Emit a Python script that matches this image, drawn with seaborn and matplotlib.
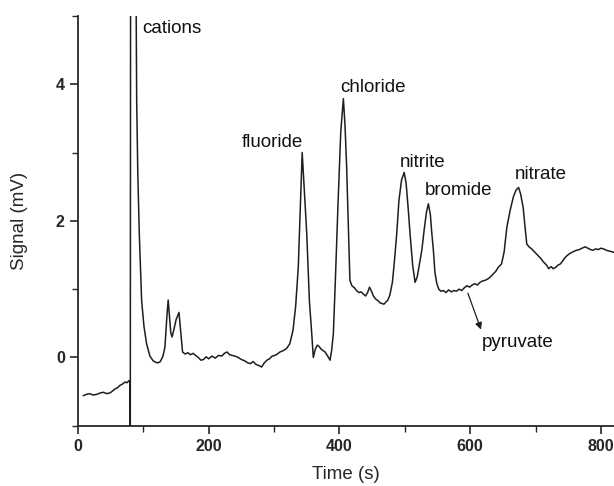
import matplotlib
matplotlib.use("Agg")
import matplotlib.pyplot as plt
import seaborn as sns
import pandas as pd
from matplotlib.ticker import MultipleLocator

# chromatogram trace (time in s, signal in mV)
time = [8, 13, 18, 23, 29, 34, 39, 44, 49, 53,
        57, 61, 64, 68, 72, 75, 78, 79.5, 80, 80.5,
        88.5, 89.8, 91.5, 93.8, 97.4, 101, 105, 110, 115, 119,
        122, 126, 130, 133, 136, 138, 140, 142, 144, 147,
        150, 154.5, 157, 160, 164, 168, 172, 176, 180, 184,
        188, 192, 196, 200, 205, 210, 215, 220, 224, 228,
        232, 236, 240, 245, 250, 255, 260, 264, 268, 272,
        277, 281, 285, 289, 293, 297, 301, 305, 309, 314,
        319, 324, 329, 333, 337, 340, 343, 346, 350, 354,
        357.6, 360, 363, 366, 369, 372, 375, 378, 382, 385.6,
        388, 390.7, 394, 398, 402, 406, 408.5, 411, 414, 416,
        419, 423, 426, 430, 433, 436.6, 440, 443, 446, 449,
        452, 455, 459, 462, 465, 468, 471, 474, 477, 481,
        484, 487.6, 491, 495, 499, 502, 505, 508, 512, 515.7,
        519, 522, 526, 530, 533, 536, 539, 541, 543.7, 546,
        549, 552, 555, 559, 563, 567, 571, 575, 579, 583,
        587, 591, 595, 599, 603, 607, 611, 615, 619, 623,
        627, 631, 635, 639, 643, 648, 652, 656, 661, 666,
        670, 674, 677, 681, 684, 686.6, 690, 694, 698, 701,
        704, 708, 712, 717, 720, 724, 727, 731, 734, 738,
        742, 745, 748, 752, 756, 760, 763, 767, 771, 776,
        780, 784, 788, 792, 796, 800, 804, 808, 812, 816, 820]
signal = [-0.56, -0.54, -0.53, -0.55, -0.54, -0.52, -0.51, -0.53, -0.52, -0.49,
          -0.46, -0.44, -0.41, -0.39, -0.36, -0.37, -0.34, -0.35, -1.6, 6.0,
          6.0, 3.76, 2.7, 1.81, 0.83, 0.45, 0.2, 0.02, -0.05, -0.07,
          -0.08, -0.06, 0.02, 0.15, 0.6, 0.84, 0.6, 0.36, 0.3, 0.42,
          0.55, 0.66, 0.4, 0.08, 0.05, 0.07, 0.04, 0.06, 0.03, 0.0,
          -0.04, -0.03, 0.01, -0.02, 0.02, -0.01, 0.03, 0.02, 0.06, 0.08,
          0.04, 0.03, 0.02, 0.0, -0.03, -0.05, -0.08, -0.09, -0.06, -0.1,
          -0.12, -0.14, -0.08, -0.04, -0.02, 0.02, 0.03, 0.05, 0.08, 0.1,
          0.13, 0.2, 0.4, 0.75, 1.32, 2.15, 3.0, 2.5, 1.81, 0.83,
          0.35, 0.0, 0.12, 0.18, 0.16, 0.12, 0.1, 0.08, 0.02, -0.04,
          0.1, 0.35, 1.2, 2.3, 3.3, 3.79, 3.4, 2.79, 1.8, 1.13,
          1.05, 1.02, 0.98, 0.95, 0.96, 0.93, 0.9, 0.95, 1.03, 0.97,
          0.9, 0.86, 0.83, 0.8, 0.79, 0.78, 0.81, 0.84, 0.91, 1.1,
          1.4, 1.81, 2.3, 2.6, 2.71, 2.55, 2.2, 1.81, 1.35, 1.1,
          1.18, 1.35, 1.57, 1.9, 2.12, 2.25, 2.1, 1.85, 1.57, 1.25,
          1.08, 1.0, 0.97, 0.98, 0.95, 0.99, 0.96, 0.98, 0.97, 1.0,
          0.98, 1.02, 1.05, 1.03, 1.06, 1.08, 1.06, 1.1, 1.12, 1.13,
          1.15, 1.18, 1.22, 1.26, 1.32, 1.37, 1.55, 1.9, 2.15, 2.35,
          2.45, 2.49, 2.4, 2.2, 1.9, 1.66, 1.62, 1.59, 1.55, 1.52,
          1.49, 1.45, 1.4, 1.35, 1.3, 1.33, 1.3, 1.32, 1.35, 1.37,
          1.42, 1.46, 1.49, 1.52, 1.54, 1.56, 1.57, 1.58, 1.6, 1.62,
          1.6, 1.58, 1.57, 1.59, 1.58, 1.6, 1.59, 1.57, 1.56, 1.55, 1.54]

# peak labels and where they sit
peak_names = ["cations", "fluoride", "chloride", "nitrite", "bromide", "nitrate", "pyruvate"]
label_x = [98, 250, 401, 493, 531, 668, 618]
label_y = [4.82, 3.15, 3.95, 2.86, 2.45, 2.68, 0.22]

# arrow pointing to the pyruvate shoulder
arrow_from = (595, 0.98)
arrow_to = (618, 0.37)

sns.set_style("ticks")
plt.rcParams["font.family"] = ["Liberation Sans", "DejaVu Sans"]

df = pd.DataFrame({"Time (s)": time, "Signal (mV)": signal})

fig = plt.figure(figsize=(6.14, 4.86), dpi=100)
ax = fig.add_axes([0.127, 0.124, 0.873, 0.843])
sns.lineplot(data=df, x="Time (s)", y="Signal (mV)", sort=False, estimator=None,
             color="#1e1e1e", linewidth=1.1, ax=ax)

for name, tx, ty in zip(peak_names, label_x, label_y):
    ax.text(tx, ty, name, fontsize=13.5, ha="left", va="center", color="#111111")

ax.annotate("", xy=arrow_to, xytext=arrow_from,
            arrowprops=dict(arrowstyle="-|>", color="#1e1e1e", lw=0.9, mutation_scale=10))

ax.set_xlim(0, 820)
ax.set_ylim(-1, 5)
ax.xaxis.set_major_locator(MultipleLocator(200))
ax.xaxis.set_minor_locator(MultipleLocator(100))
ax.yaxis.set_major_locator(MultipleLocator(2))
ax.yaxis.set_minor_locator(MultipleLocator(1))
ax.tick_params(which="major", length=6, width=1.2, direction="out")
ax.tick_params(which="minor", length=4, width=1.0, direction="out")
for lab in ax.get_xticklabels() + ax.get_yticklabels():
    lab.set_fontweight("bold")
    lab.set_fontsize(11.5)

ax.set_xlabel("Time (s)", fontsize=13.5)
ax.set_ylabel("Signal (mV)", fontsize=13.5)
ax.xaxis.set_label_coords(0.5, -0.098)
ax.yaxis.set_label_coords(-0.093, 0.5)

sns.despine(ax=ax)
ax.spines["left"].set_linewidth(1.3)
ax.spines["bottom"].set_linewidth(1.3)

fig.savefig("out.png", dpi=100)
